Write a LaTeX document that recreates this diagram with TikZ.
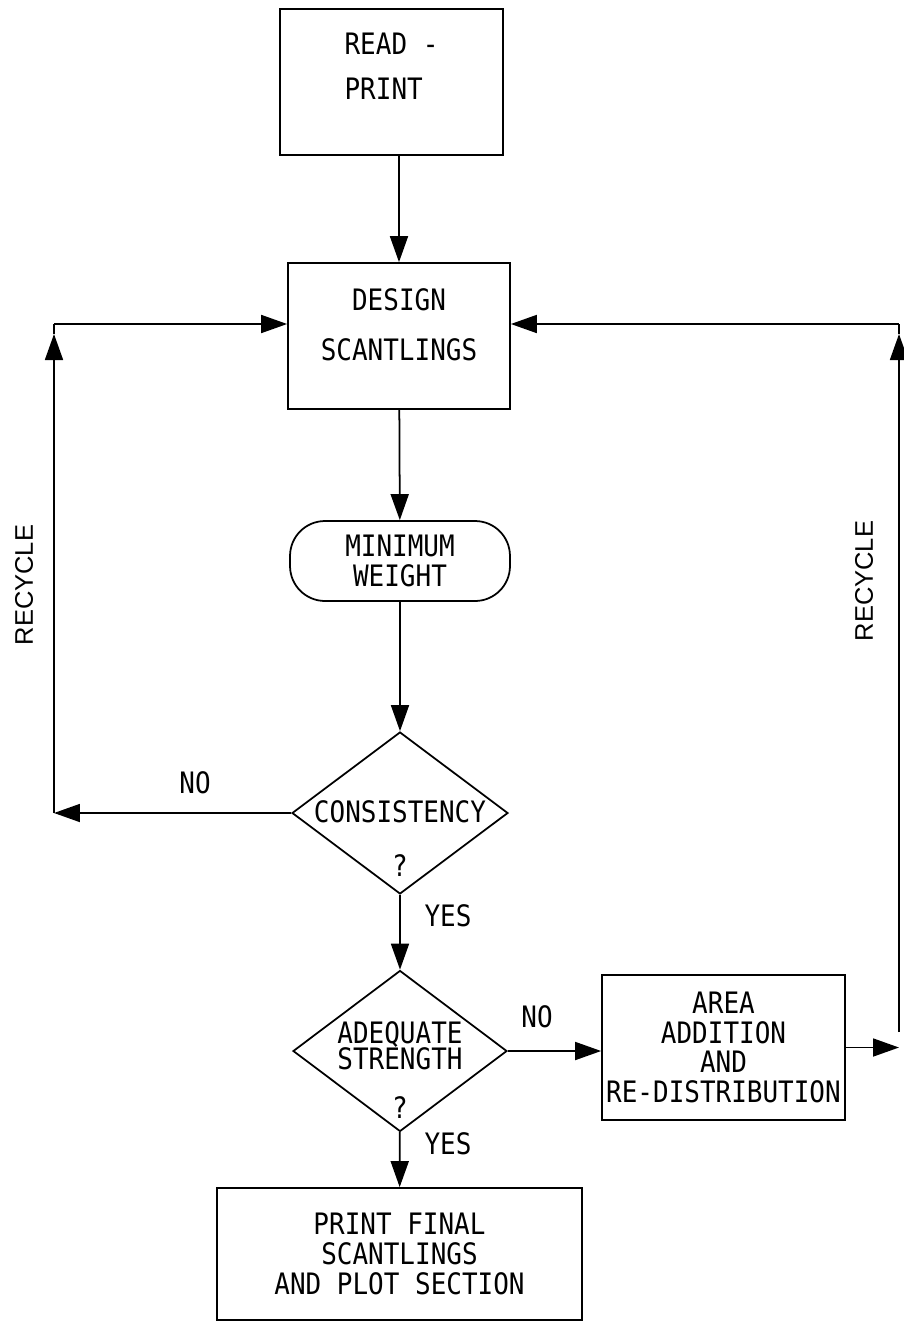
\documentclass[tikz,border=0pt]{standalone}
\usepackage{fontspec}
\usetikzlibrary{shapes.geometric,arrows.meta}
\newfontfamily\chartfont[FakeStretch=0.88]{DejaVu Sans Mono}
\newfontfamily\recyclefont{Liberation Sans}
\tikzset{
	box/.style={draw, rectangle, inner sep=0pt, align=center},
	term/.style={draw, rectangle, rounded corners=0.7cm, inner sep=0pt, align=center},
	decide/.style={draw, diamond, aspect=1.35, inner sep=0pt},
	arr/.style={-{Triangle[length=0.52cm,width=0.36cm]}},
	recycle/.style={font=\recyclefont\fontsize{14.5pt}{14.5pt}\selectfont, rotate=90},
}
% text of a decision, first line raised by #1
\newcommand{\asktext}[2]{\raisebox{#1}[0pt][0pt]{\begin{tabular}[t]{@{}c@{}}#2\end{tabular}}}
\begin{document}
\begin{tikzpicture}[x=0.02cm,y=-0.02cm, line width=1pt, font=\chartfont\fontsize{16.8pt}{17pt}\selectfont]
	\useasboundingbox (0,0) rectangle (903,1322);
	% boxes
	\node[box, align=left, minimum width=4.46cm, minimum height=2.92cm, text height=0.72cm, text depth=0pt] (read) at (391.5,82) {READ -\\[0.32cm]PRINT};
	\node[box, minimum width=4.44cm, minimum height=2.92cm, text height=0.96cm, text depth=0pt] (design) at (399,336) {DESIGN\\[0.4cm]SCANTLINGS};
	\node[term, minimum width=4.4cm, minimum height=1.6cm] (minw) at (400,561) {MINIMUM\\WEIGHT};
	\node[decide, minimum width=4.32cm, minimum height=3.24cm] (consist) at (400,813) {\asktext{-0.18cm}{CONSISTENCY\\[0.48cm]?}};
	\node[decide, minimum width=4.28cm, minimum height=3.22cm] (adeq) at (400,1051) {\asktext{0.16cm}{ADEQUATE\\[-0.08cm]STRENGTH\\[0.36cm]?}};
	\node[box, minimum width=4.86cm, minimum height=2.9cm] (area) at (723.5,1047.5) {AREA\\ADDITION\\AND\\RE-DISTRIBUTION};
	\node[box, minimum width=7.3cm, minimum height=2.64cm] (final) at (399.5,1254) {PRINT FINAL\\SCANTLINGS\\AND PLOT SECTION};
	\node[recycle] (recl) at (24,585) {RECYCLE};
	\node[recycle] (recr) at (864,581) {RECYCLE};
	\node (no1) at (195,783) {NO};
	\node (yes1) at (448,916) {YES};
	\node (no2) at (537,1017) {NO};
	\node (yes2) at (448,1144) {YES};
	\coordinate (lbot) at (54,813);
	\coordinate (ltip) at (54,334);
	\coordinate (ltop) at (54,324);
	\coordinate (rbot) at (899,1032);
	\coordinate (rtip) at (899,334);
	\coordinate (rtop) at (899,324);
	% main line
	\draw[arr] (read.south -| design.north) -- (design.north);
	\draw[arr] (design) -- (minw);
	\draw[arr] (minw) -- (consist);
	\draw[arr] (consist) -- (adeq);
	\draw[arr] (adeq.east) -- (adeq.east -| area.west);
	\draw[arr] (adeq) -- (final);
	% recycle loops
	\draw[arr] (consist.west) -- (lbot);
	\draw[arr] (lbot) -- (ltip);
	\draw (ltip) -- (ltop);
	\draw[arr] (ltop) -- (ltop -| design.west);
	\draw[arr] (area.east) -- (area.east -| rbot);
	\draw[arr] (rbot) -- (rtip);
	\draw (rtip) -- (rtop);
	\draw[arr] (rtop) -- (rtop -| design.east);
\end{tikzpicture}
\end{document}
